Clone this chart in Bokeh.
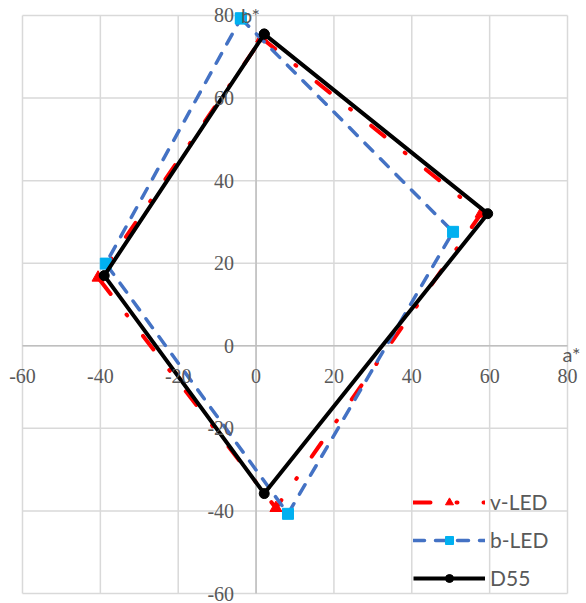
from bokeh.plotting import figure
from bokeh.models import Range1d, Label, LabelSet, ColumnDataSource
from bokeh.embed import file_html
from bokeh.resources import INLINE

# ---- data ----
x_ticks = [-60, -40, -20, 0, 20, 40, 60, 80]
y_ticks = [-60, -40, -20, 0, 20, 40, 60, 80]
x_tick_labels = ["-60", "-40", "-20", "0", "20", "40", "60", "80"]
y_tick_labels = ["-60", "-40", "-20", "0", "20", "40", "60", "80"]

series_names = ["v-LED", "b-LED", "D55"]
vled_a = [1.5, 57.8, 5.1, -40.6, 1.5]
vled_b = [74.5, 32.0, -39.3, 16.5, 74.5]
bled_a = [-3.9, 50.6, 8.2, -38.6, -3.9]
bled_b = [79.3, 27.6, -40.7, 19.9, 79.3]
d55_a = [2.1, 59.5, 2.1, -39.0, 2.1]
d55_b = [75.5, 32.0, -35.8, 17.0, 75.5]

FONT = "Lato"
TXT = "#595959"
GRID = "#d9d9d9"
AXIS = "#bfbfbf"

xmin, xmax = x_ticks[0], x_ticks[-1]
ymin, ymax = y_ticks[0], y_ticks[-1]

# plot area spans x -60..80 (pixels 22..567) and y -60..80 (pixels 593..15)
p = figure(width=586, height=603,
           x_range=Range1d(-65.65, 84.88), y_range=Range1d(-62.42, 83.63),
           output_backend="svg", toolbar_location=None,
           x_axis_location=None, y_axis_location=None,
           min_border=0, outline_line_color=None,
           background_fill_color="white", border_fill_color="white")
for g in p.grid:
    g.visible = False

# grid
p.segment(x0=x_ticks, y0=[ymin] * len(x_ticks), x1=x_ticks, y1=[ymax] * len(x_ticks),
          line_color=GRID, line_width=1.5)
p.segment(x0=[xmin] * len(y_ticks), y0=y_ticks, x1=[xmax] * len(y_ticks), y1=y_ticks,
          line_color=GRID, line_width=1.5)
# axes through the origin
p.segment(x0=[0, xmin], y0=[ymin, 0], x1=[0, xmax], y1=[ymax, 0],
          line_color=AXIS, line_width=1.5)

# tick labels
xsrc = ColumnDataSource(dict(x=x_ticks, y=[0] * len(x_ticks), t=x_tick_labels))
ysrc = ColumnDataSource(dict(x=[0] * len(y_ticks), y=y_ticks, t=y_tick_labels))
p.add_layout(LabelSet(x="x", y="y", text="t", source=xsrc, y_offset=-30,
                      text_align="center", text_baseline="middle",
                      text_font=FONT, text_font_size="20px", text_color=TXT))
p.add_layout(LabelSet(x="x", y="y", text="t", source=ysrc, x_offset=-22,
                      text_align="right", text_baseline="middle",
                      text_font=FONT, text_font_size="20px", text_color=TXT))

# axis titles
p.add_layout(Label(x=xmax, y=0, text="a*", x_offset=-5, y_offset=-8,
                   text_align="left", text_baseline="middle",
                   text_font=FONT, text_font_size="20px", text_color=TXT))
p.add_layout(Label(x=0, y=ymax, text="b*", x_offset=4, y_offset=0,
                   text_align="right", text_baseline="middle", level="glyph",
                   text_font=FONT, text_font_size="20px", text_color=TXT))

# series
p.line(vled_a, vled_b, line_color="#FF0000", line_width=4, line_dash="17 26 1 26",
       line_cap="round", legend_label=series_names[0])
p.scatter(vled_a, vled_b, marker="triangle", size=12, fill_color="#FF0000",
          line_color="#FF0000", legend_label=series_names[0])

p.line(bled_a, bled_b, line_color="#4472C4", line_width=3.5, line_dash="11 11",
       line_cap="round", legend_label=series_names[1])
p.scatter(bled_a, bled_b, marker="square", size=11, fill_color="#00B0F0",
          line_color="#00B0F0", legend_label=series_names[1])

p.line(d55_a, d55_b, line_color="#000000", line_width=4, legend_label=series_names[2])
p.scatter(d55_a, d55_b, marker="circle", size=10, fill_color="#000000",
          line_color="#000000", legend_label=series_names[2])

lg = p.legend[0]
lg.location = (413, 13)
lg.glyph_width = 72
lg.glyph_height = 20
lg.label_height = 20
lg.spacing = 13
lg.padding = 0
lg.margin = 0
lg.label_standoff = 5
lg.background_fill_alpha = 0
lg.border_line_alpha = 0
lg.label_text_font = FONT
lg.label_text_font_size = "21px"
lg.label_text_color = TXT

open("out.html", "w").write(file_html(p, INLINE))
